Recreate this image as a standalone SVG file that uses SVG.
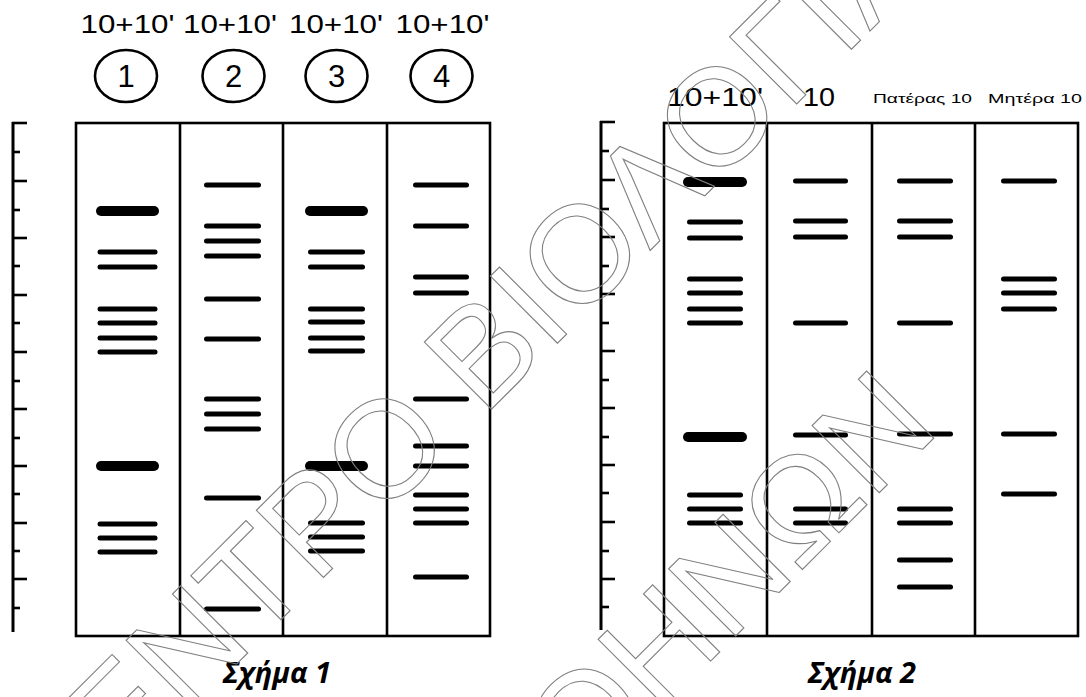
<svg xmlns="http://www.w3.org/2000/svg" width="1086" height="697" viewBox="0 0 1086 697">
<style>
.frame{fill:none;stroke:#000;stroke-width:2.6}
.div{stroke:#000;stroke-width:2.6}
.axis{stroke:#000;stroke-width:3;fill:none}
.tick{stroke:#000;stroke-width:2.6}
.b{stroke:#000;stroke-width:5;stroke-linecap:round}
.t{stroke:#000;stroke-width:10;stroke-linecap:round}
.lbl{font-family:"Liberation Sans",Arial,sans-serif;font-size:25px;fill:#000;text-anchor:middle}
.sm{font-family:"Liberation Sans",Arial,sans-serif;font-size:13.5px;fill:#000;text-anchor:middle}
.num{font-family:"Liberation Sans",Arial,sans-serif;font-size:31px;fill:#000;text-anchor:middle}
.ring{fill:none;stroke:#000;stroke-width:2.6}
.cap{font-family:"Open Sans","Liberation Sans",sans-serif;font-size:29px;font-weight:bold;font-style:italic;fill:#000;text-anchor:middle}
.wm{font-family:"Liberation Sans",Arial,sans-serif;font-size:138px;fill:none;stroke:#808080;stroke-width:1.1}
</style>
<rect width="1086" height="697" fill="#fff"/>

<g id="fig1">
  <g id="fig1-labels">
    <text class="lbl" x="127.5" y="33" textLength="94" lengthAdjust="spacingAndGlyphs">10+10'</text>
    <text class="lbl" x="230" y="33" textLength="94" lengthAdjust="spacingAndGlyphs">10+10'</text>
    <text class="lbl" x="336" y="33" textLength="94" lengthAdjust="spacingAndGlyphs">10+10'</text>
    <text class="lbl" x="442.5" y="33" textLength="94" lengthAdjust="spacingAndGlyphs">10+10'</text>
  </g>
  <g id="fig1-num1"><ellipse class="ring" cx="126" cy="76" rx="31" ry="26"/><text class="num" x="126" y="87">1</text></g>
  <g id="fig1-num2"><ellipse class="ring" cx="233.5" cy="76" rx="31" ry="26"/><text class="num" x="233.5" y="87">2</text></g>
  <g id="fig1-num3"><ellipse class="ring" cx="336.5" cy="76" rx="31" ry="26"/><text class="num" x="336.5" y="87">3</text></g>
  <g id="fig1-num4"><ellipse class="ring" cx="441.5" cy="76" rx="31" ry="26"/><text class="num" x="441.5" y="87">4</text></g>
  <g id="fig1-ruler">
    <line class="axis" x1="13" y1="122" x2="13" y2="632"/>
    <line class="tick" x1="12" y1="123" x2="27" y2="123"/>
    <line class="tick" x1="12" y1="152" x2="20" y2="152"/>
    <line class="tick" x1="12" y1="181" x2="27" y2="181"/>
    <line class="tick" x1="12" y1="210" x2="20" y2="210"/>
    <line class="tick" x1="12" y1="238" x2="27" y2="238"/>
    <line class="tick" x1="12" y1="266" x2="20" y2="266"/>
    <line class="tick" x1="12" y1="295" x2="27" y2="295"/>
    <line class="tick" x1="12" y1="323" x2="20" y2="323"/>
    <line class="tick" x1="12" y1="352" x2="27" y2="352"/>
    <line class="tick" x1="12" y1="381" x2="20" y2="381"/>
    <line class="tick" x1="12" y1="409" x2="27" y2="409"/>
    <line class="tick" x1="12" y1="438" x2="20" y2="438"/>
    <line class="tick" x1="12" y1="466" x2="27" y2="466"/>
    <line class="tick" x1="12" y1="494" x2="20" y2="494"/>
    <line class="tick" x1="12" y1="523" x2="27" y2="523"/>
    <line class="tick" x1="12" y1="551" x2="20" y2="551"/>
    <line class="tick" x1="12" y1="579" x2="27" y2="579"/>
    <line class="tick" x1="12" y1="608" x2="20" y2="608"/>
  </g>
  <g id="fig1-gel">
    <rect class="frame" x="76" y="123" width="414" height="513"/>
    <line class="div" x1="180" y1="123" x2="180" y2="636"/>
    <line class="div" x1="283" y1="123" x2="283" y2="636"/>
    <line class="div" x1="387" y1="123" x2="387" y2="636"/>
  </g>
  <g id="fig1-lane1">
    <line class="t" x1="101" y1="211" x2="154" y2="211"/>
    <line class="b" x1="100" y1="252" x2="155" y2="252"/>
    <line class="b" x1="100" y1="267" x2="155" y2="267"/>
    <line class="b" x1="100" y1="309" x2="155" y2="309"/>
    <line class="b" x1="100" y1="323" x2="155" y2="323"/>
    <line class="b" x1="100" y1="338" x2="155" y2="338"/>
    <line class="b" x1="100" y1="352" x2="155" y2="352"/>
    <line class="t" x1="101" y1="466" x2="154" y2="466"/>
    <line class="b" x1="100" y1="524" x2="155" y2="524"/>
    <line class="b" x1="100" y1="538" x2="155" y2="538"/>
    <line class="b" x1="100" y1="552" x2="155" y2="552"/>
  </g>
  <g id="fig1-lane2">
    <line class="b" x1="206.5" y1="185" x2="258.5" y2="185"/>
    <line class="b" x1="206.5" y1="226" x2="258.5" y2="226"/>
    <line class="b" x1="206.5" y1="241" x2="258.5" y2="241"/>
    <line class="b" x1="206.5" y1="256" x2="258.5" y2="256"/>
    <line class="b" x1="206.5" y1="299" x2="258.5" y2="299"/>
    <line class="b" x1="206.5" y1="339" x2="258.5" y2="339"/>
    <line class="b" x1="206.5" y1="399" x2="258.5" y2="399"/>
    <line class="b" x1="206.5" y1="414" x2="258.5" y2="414"/>
    <line class="b" x1="206.5" y1="429" x2="258.5" y2="429"/>
    <line class="b" x1="206.5" y1="498" x2="258.5" y2="498"/>
    <line class="b" x1="206.5" y1="609" x2="258.5" y2="609"/>
  </g>
  <g id="fig1-lane3">
    <line class="t" x1="310" y1="211" x2="363" y2="211"/>
    <line class="b" x1="310.5" y1="252" x2="362.5" y2="252"/>
    <line class="b" x1="310.5" y1="267" x2="362.5" y2="267"/>
    <line class="b" x1="310.5" y1="309" x2="362.5" y2="309"/>
    <line class="b" x1="310.5" y1="322" x2="362.5" y2="322"/>
    <line class="b" x1="310.5" y1="338" x2="362.5" y2="338"/>
    <line class="b" x1="310.5" y1="351" x2="362.5" y2="351"/>
    <line class="t" x1="310" y1="466" x2="363" y2="466"/>
    <line class="b" x1="310.5" y1="523" x2="362.5" y2="523"/>
    <line class="b" x1="310.5" y1="537" x2="362.5" y2="537"/>
    <line class="b" x1="310.5" y1="551" x2="362.5" y2="551"/>
  </g>
  <g id="fig1-lane4">
    <line class="b" x1="415.5" y1="185" x2="466.5" y2="185"/>
    <line class="b" x1="415.5" y1="226" x2="466.5" y2="226"/>
    <line class="b" x1="415.5" y1="277" x2="466.5" y2="277"/>
    <line class="b" x1="415.5" y1="293" x2="466.5" y2="293"/>
    <line class="b" x1="415.5" y1="399" x2="466.5" y2="399"/>
    <line class="b" x1="415.5" y1="446" x2="466.5" y2="446"/>
    <line class="b" x1="415.5" y1="466" x2="466.5" y2="466"/>
    <line class="b" x1="415.5" y1="495" x2="466.5" y2="495"/>
    <line class="b" x1="415.5" y1="509" x2="466.5" y2="509"/>
    <line class="b" x1="415.5" y1="523" x2="466.5" y2="523"/>
    <line class="b" x1="415.5" y1="577" x2="466.5" y2="577"/>
  </g>
  <text id="fig1-caption" class="cap" x="277" y="683">Σχήμα 1</text>
</g>

<g id="fig2">
  <g id="fig2-labels">
    <text class="lbl" x="715" y="106" font-size="26" textLength="96" lengthAdjust="spacingAndGlyphs">10+10'</text>
    <text class="lbl" x="819" y="106" font-size="26" textLength="32" lengthAdjust="spacingAndGlyphs">10</text>
    <text class="sm" x="922.5" y="103" textLength="99" lengthAdjust="spacingAndGlyphs">Πατέρας 10</text>
    <text class="sm" x="1035" y="103" textLength="94" lengthAdjust="spacingAndGlyphs">Μητέρα 10</text>
  </g>
  <g id="fig2-ruler">
    <line class="axis" x1="601" y1="121" x2="601" y2="630"/>
    <line class="tick" x1="600" y1="122" x2="615" y2="122"/>
    <line class="tick" x1="600" y1="151" x2="609" y2="151"/>
    <line class="tick" x1="600" y1="180" x2="615" y2="180"/>
    <line class="tick" x1="600" y1="209" x2="609" y2="209"/>
    <line class="tick" x1="600" y1="237" x2="615" y2="237"/>
    <line class="tick" x1="600" y1="266" x2="609" y2="266"/>
    <line class="tick" x1="600" y1="294" x2="615" y2="294"/>
    <line class="tick" x1="600" y1="323" x2="609" y2="323"/>
    <line class="tick" x1="600" y1="351" x2="615" y2="351"/>
    <line class="tick" x1="600" y1="380" x2="609" y2="380"/>
    <line class="tick" x1="600" y1="408" x2="615" y2="408"/>
    <line class="tick" x1="600" y1="437" x2="609" y2="437"/>
    <line class="tick" x1="600" y1="465" x2="615" y2="465"/>
    <line class="tick" x1="600" y1="493" x2="609" y2="493"/>
    <line class="tick" x1="600" y1="522" x2="615" y2="522"/>
    <line class="tick" x1="600" y1="551" x2="609" y2="551"/>
    <line class="tick" x1="600" y1="579" x2="615" y2="579"/>
    <line class="tick" x1="600" y1="607" x2="609" y2="607"/>
  </g>
  <g id="fig2-gel">
    <rect class="frame" x="664" y="123" width="414" height="513"/>
    <line class="div" x1="767" y1="123" x2="767" y2="636"/>
    <line class="div" x1="872" y1="123" x2="872" y2="636"/>
    <line class="div" x1="975" y1="123" x2="975" y2="636"/>
  </g>
  <g id="fig2-lane1">
    <line class="t" x1="688" y1="182" x2="742" y2="182"/>
    <line class="b" x1="689.5" y1="222" x2="740.5" y2="222"/>
    <line class="b" x1="689.5" y1="238" x2="740.5" y2="238"/>
    <line class="b" x1="689.5" y1="279" x2="740.5" y2="279"/>
    <line class="b" x1="689.5" y1="293" x2="740.5" y2="293"/>
    <line class="b" x1="689.5" y1="309" x2="740.5" y2="309"/>
    <line class="b" x1="689.5" y1="323" x2="740.5" y2="323"/>
    <line class="t" x1="688" y1="437" x2="742" y2="437"/>
    <line class="b" x1="689.5" y1="495" x2="740.5" y2="495"/>
    <line class="b" x1="689.5" y1="509" x2="740.5" y2="509"/>
    <line class="b" x1="689.5" y1="523" x2="740.5" y2="523"/>
  </g>
  <g id="fig2-lane2">
    <line class="b" x1="795.5" y1="181" x2="845.5" y2="181"/>
    <line class="b" x1="795.5" y1="221" x2="845.5" y2="221"/>
    <line class="b" x1="795.5" y1="237" x2="845.5" y2="237"/>
    <line class="b" x1="795.5" y1="323" x2="845.5" y2="323"/>
    <line class="b" x1="795.5" y1="435" x2="845.5" y2="435"/>
    <line class="b" x1="795.5" y1="509" x2="845.5" y2="509"/>
    <line class="b" x1="795.5" y1="523" x2="845.5" y2="523"/>
  </g>
  <g id="fig2-lane3">
    <line class="b" x1="899.5" y1="181" x2="950.5" y2="181"/>
    <line class="b" x1="899.5" y1="221" x2="950.5" y2="221"/>
    <line class="b" x1="899.5" y1="237" x2="950.5" y2="237"/>
    <line class="b" x1="899.5" y1="323" x2="950.5" y2="323"/>
    <line class="b" x1="899.5" y1="434" x2="950.5" y2="434"/>
    <line class="b" x1="899.5" y1="509" x2="950.5" y2="509"/>
    <line class="b" x1="899.5" y1="523" x2="950.5" y2="523"/>
    <line class="b" x1="899.5" y1="560" x2="950.5" y2="560"/>
    <line class="b" x1="899.5" y1="587" x2="950.5" y2="587"/>
  </g>
  <g id="fig2-lane4">
    <line class="b" x1="1003.5" y1="181" x2="1054.5" y2="181"/>
    <line class="b" x1="1003.5" y1="279" x2="1054.5" y2="279"/>
    <line class="b" x1="1003.5" y1="293" x2="1054.5" y2="293"/>
    <line class="b" x1="1003.5" y1="309" x2="1054.5" y2="309"/>
    <line class="b" x1="1003.5" y1="434" x2="1054.5" y2="434"/>
    <line class="b" x1="1003.5" y1="494" x2="1054.5" y2="494"/>
  </g>
  <text id="fig2-caption" class="cap" x="862" y="683">Σχήμα 2</text>
</g>

<g id="watermark" transform="rotate(-45)">
  <text class="wm" x="-559" y="637">ΚΕΝΤΡΟ ΒΙΟΛΟΓΙΑΣ</text>
  <text class="wm" x="-237" y="970">ΑΘΗΝΩΝ</text>
</g>
</svg>
